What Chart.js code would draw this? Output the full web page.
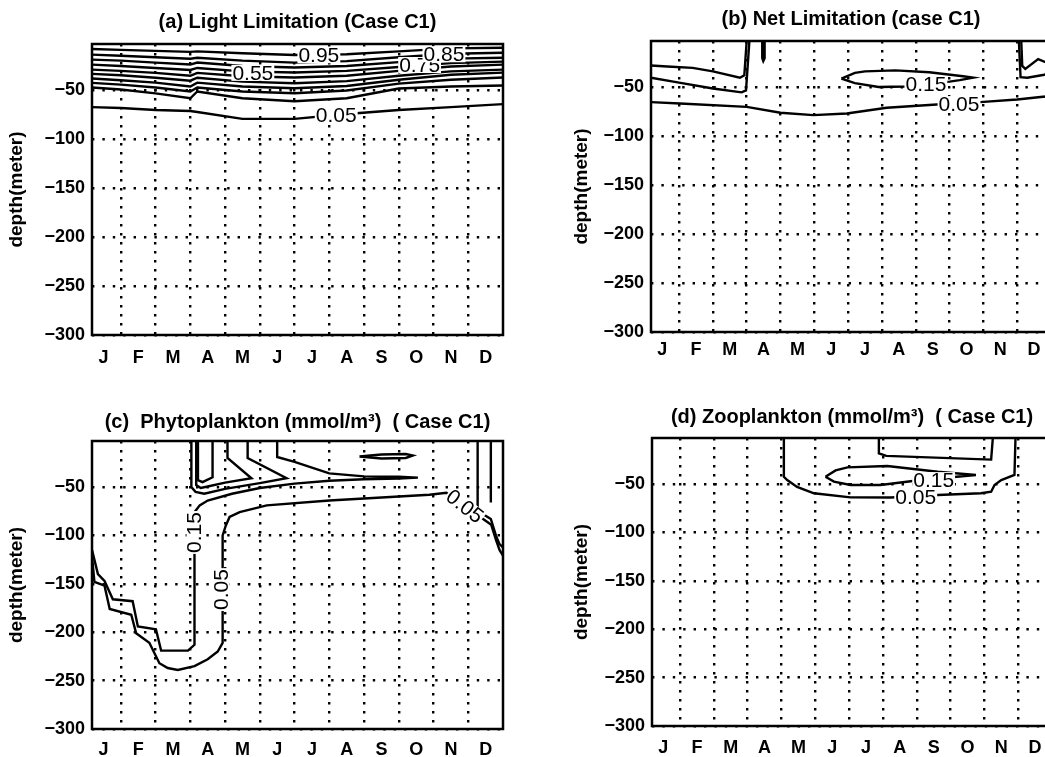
<!DOCTYPE html>
<html>
<head>
<meta charset="utf-8">
<script src="https://cdn.jsdelivr.net/npm/chart.js@4.4.0/dist/chart.umd.min.js"></script>
<style>
html,body{margin:0;padding:0;background:#fff;overflow:hidden;width:1045px;height:757px;position:relative}
canvas{position:absolute}
</style>
</head>
<body>
<canvas id="pa" width="520" height="378" style="left:0;top:0"></canvas>
<canvas id="pb" width="500" height="378" style="left:560px;top:0"></canvas>
<canvas id="pc" width="520" height="379" style="left:0;top:378px"></canvas>
<canvas id="pd" width="500" height="379" style="left:560px;top:378px"></canvas>
<script>
// axes: x in months (1 = end of Jan), y = depth in m
const months = ['J','F','M','A','M','J','J','A','S','O','N','D'];
const monthCenters = [0.5,1.5,2.5,3.5,4.5,5.5,6.5,7.5,8.5,9.5,10.5,11.5];
const monthEdges = [1,2,3,4,5,6,7,8,9,10,11];
const depthTicks = [-300,-250,-200,-150,-100,-50];
const xMin = 0.17, xMax = 12, yMin = -300, yTop = -2.5;

// (a) light limitation, one depth per month position
const aMonths = [0.17, 1, 2, 3, 3.2, 4.5, 6, 7.5, 9, 10.5, 12];
const a95 = [-7.6, -8.5, -9.5, -10.5, -10, -12, -13.7, -13, -10, -7, -6.3];
const a85 = [-13.4, -14.5, -16, -17.5, -16.5, -19.5, -21.5, -20, -16, -12.5, -11.4];
const a75 = [-18.5, -19.5, -21.5, -23.5, -21.5, -25, -26.6, -25, -21, -17.5, -16.5];
const a65 = [-23.6, -25, -27, -29, -27, -30.5, -31.7, -30, -26, -22, -20.5];
const a55 = [-28.7, -30, -32, -35, -32, -35.5, -36.8, -35, -30, -25.5, -23.6];
const a45 = [-33, -34.5, -37, -40, -37, -41, -42.6, -40.5, -35, -30.5, -28.7];
const a35 = [-37.8, -39.5, -42, -46, -42, -46, -47.7, -45.5, -39, -34, -31.8];
const a25 = [-42.2, -44, -47, -51, -47, -51, -52.8, -50, -43, -39, -36.8];
const a15 = [-47, -49, -53, -58, -51, -58, -61, -58, -48, -46, -45];
const a05 = [-67, -68, -70, -71, -72, -79, -79, -74, -70, -67, -64];
const aLabels = [['0.95', 6.7, -14, 0], ['0.55', 4.8, -32, 0], ['0.75', 9.6, -24, 0], ['0.85', 10.3, -13, 0], ['0.05', 7.2, -75, 0]];

// (b) net limitation, [month, depth] pairs
const b05 = [[0.17,-65],[1.03,-66.4],[3.0,-69.8],[4.0,-75.9],[4.97,-78.3],[5.96,-76.6],[7.14,-70.8],[8.62,-67.4],[9.9,-65],[11.0,-62.3],[11.76,-59.5],[12,-59]];
const bUpper = [[0.17,-27.5],[0.65,-28.5],[1.4,-30],[2.0,-33.5],[2.8,-40],[2.93,-37.5],[3.0,-2.5]];
const bLower = [[0.17,-40],[1.0,-45],[2.0,-51],[2.85,-55],[2.98,-53],[3.08,-2.5]];
const bSpike = [[3.46,-2.5],[3.46,-20],[3.49,-23],[3.53,-20],[3.53,-2.5]];
const b15 = [[5.8,-41],[6.2,-35],[6.5,-33.5],[7.4,-32.5],[8.4,-34.5],[9.4,-38.5],[9.7,-40],[9.3,-42.5],[9.0,-44],[8.3,-46.5],[7.7,-49],[6.9,-49.5],[6.2,-45.5],[5.8,-41]];
const bRight1 = [[11.12,-2.5],[11.15,-28],[11.24,-31],[11.62,-21],[11.83,-24],[12,-23]];
const bRight2 = [[11.05,-2.5],[11.1,-39.5],[11.3,-40],[11.8,-37],[12,-35]];
const bLabels = [['0.15', 8.3, -47, 0], ['0.05', 9.28, -67, 0]];

// (c) phytoplankton
const c05 = [[0.17,-122],[0.24,-148],[0.53,-152],[0.68,-176],[1.3,-182],[1.44,-201],[1.82,-211],[2.11,-232],[2.35,-237],[2.64,-239],[3.12,-235],[3.5,-228],[3.79,-220],[3.93,-211],[3.93,-100],[4.02,-90],[4.13,-81],[4.42,-76],[5.2,-69],[7.0,-64],[9.88,-58],[10.37,-56],[11.66,-89],[11.8,-105],[11.9,-115],[12,-121]];
const c15 = [[5.5,-2.5],[5.5,-19],[6.0,-24],[7.0,-36],[8.0,-39],[9.0,-39.5],[9.55,-40.3],[9.0,-41.3],[8.0,-42],[7.0,-43.5],[6.0,-46.5],[5.0,-51],[4.2,-57],[3.5,-64],[3.27,-69],[3.12,-76],[3.12,-213],[2.93,-219],[2.16,-219],[2.01,-197],[1.49,-194],[1.34,-168],[0.77,-166],[0.53,-147],[0.34,-140],[0.17,-115]];
const c25 = [[3.03,-2.5],[3.03,-50],[3.15,-55],[3.4,-57],[4.0,-52],[5.0,-46],[5.77,-41],[4.65,-20],[4.65,-2.5]];
const c35 = [[3.17,-2.5],[3.17,-48],[3.3,-51],[3.5,-49.5],[4.0,-45.5],[4.76,-41],[4.07,-20],[4.07,-2.5]];
const c45 = [[3.22,-2.5],[3.22,-43],[3.35,-45],[3.64,-40],[3.64,-2.5]];
const cPatch = [[7.87,-18.5],[8.5,-16.5],[9.2,-16],[9.4,-17.5],[9.2,-20],[8.5,-20.5],[7.87,-18.5]];
const cRight1 = [[11.27,-2.5],[11.27,-74.6],[11.65,-83],[11.8,-100.5],[11.9,-109],[12,-112.5]];
const cRight2 = [[11.65,-2.5],[11.65,-66]];
const cLabels = [['0.15', 3.12, -97, -90], ['0.05', 3.9, -156, -90], ['0.05', 10.9, -70, 38]];

// (d) zooplankton
const d05 = [[4.07,-2.5],[4.07,-42.5],[4.17,-46],[4.46,-53],[4.96,-59.6],[6.04,-63.8],[7.23,-64],[8.62,-61.4],[9.9,-59.6],[10.2,-58],[10.3,-51],[10.5,-46],[10.89,-40.7],[10.92,-2.5]];
const d15 = [[5.3,-42.5],[5.6,-36],[5.95,-32.8],[7.13,-31.4],[8.62,-37.3],[9.75,-40.7],[8.12,-45.9],[6.93,-51],[6.04,-51],[5.55,-47.6],[5.3,-42.5]];
const dBox = [[6.88,-2.5],[6.88,-18.3],[7.1,-21],[10.2,-24.8],[10.25,-2.5]];
const dLabels = [['0.15', 8.5, -46, 0], ['0.05', 7.97, -64, 0]];

const FONT = '"Liberation Sans", Arial, Helvetica, sans-serif';
Chart.defaults.font.family = FONT;
Chart.defaults.color = '#000';

const zipPts = (xs, ys) => xs.map((x, i) => ({x, y: ys[i]}));
const pairPts = arr => arr.map(([x, y]) => ({x, y}));

function labelPlugin(items){
  return {
    id: 'contourLabels',
    afterDatasetsDraw(chart){
      const {ctx, scales:{x, y}} = chart;
      ctx.save();
      ctx.font = '21px ' + FONT;
      ctx.textAlign = 'center'; ctx.textBaseline = 'middle';
      items.forEach(([t, m, d, rot]) => {
        ctx.save();
        ctx.translate(x.getPixelForValue(m), y.getPixelForValue(d));
        ctx.rotate(rot * Math.PI / 180);
        const w = ctx.measureText(t).width;
        ctx.fillStyle = '#fff'; ctx.fillRect(-w/2 - 1, -8, w + 2, 16);
        ctx.fillStyle = '#000'; ctx.fillText(t, 0, 1);
        ctx.restore();
      });
      ctx.restore();
    }
  };
}
const framePlugin = {
  id: 'frame',
  afterDraw(chart){
    const {ctx, chartArea:a} = chart;
    ctx.save(); ctx.strokeStyle = '#000'; ctx.lineWidth = 2.5;
    ctx.strokeRect(a.left, a.top, a.right - a.left, a.bottom - a.top);
    ctx.restore();
  }
};

function panel(id, title, lines, labels, L){
  const line = data => ({data, showLine:true, borderColor:'#000', borderWidth:2.4, pointRadius:0, fill:false, tension:0});
  new Chart(document.getElementById(id), {
    type: 'scatter',
    data: {datasets: lines.map(line)},
    options: {
      responsive:false, animation:false, devicePixelRatio:1,
      layout:{padding:{left:0, top:0, bottom:0, right:L.w - L.r}},
      plugins:{
        legend:{display:false}, tooltip:{enabled:false},
        title:{display:true, text:title, fullSize:false, color:'#000',
          font:{size:20, weight:'bold', lineHeight:1.2}, padding:{top:L.tt, bottom:L.tb}}
      },
      scales:{
        x:{type:'linear', min:xMin, max:xMax, bounds:'data', weight:0,
          afterBuildTicks:s => { s.ticks = monthEdges.map(v => ({value:v})); },
          afterFit:s => { s.height = 0; },
          ticks:{display:false}, grid:{color:'#000', lineWidth:2.4, drawTicks:false},
          border:{display:false, dash:[2.4,6.6]}},
        xm:{type:'linear', position:'bottom', min:xMin, max:xMax, bounds:'data', weight:1,
          afterBuildTicks:s => { s.ticks = monthCenters.map(v => ({value:v})); },
          afterFit:s => { s.height = L.h - L.b; },
          ticks:{callback:(v, i) => months[i], autoSkip:false, maxRotation:0, padding:L.xp,
            font:{size:18, weight:'bold'}, color:'#000'},
          grid:{display:false}, border:{display:false}},
        y:{type:'linear', min:yMin, max:yTop, bounds:'data',
          afterBuildTicks:s => { s.ticks = depthTicks.map(v => ({value:v})); },
          afterFit:s => { s.width = L.l; },
          ticks:{callback:v => '\u2212' + Math.abs(v), padding:7, font:{size:18, weight:'bold'}, color:'#000'},
          grid:{color:'#000', lineWidth:2.4, drawTicks:false},
          border:{display:false, dash:[2.4,8]},
          title:{display:true, text:'depth(meter)', color:'#000', font:{size:19, weight:'bold'}, padding:{top:L.yt, bottom:0}}}
      }
    },
    plugins:[labelPlugin(labels), framePlugin]
  });
}

panel('pa', '(a) Light Limitation (Case C1)',
  [a95,a85,a75,a65,a55,a45,a35,a25,a15,a05].map(ys => zipPts(aMonths, ys)), aLabels,
  {w:520, h:378, l:92, r:503, b:335, tt:10, tb:10, xp:4, yt:5});
panel('pb', '(b) Net Limitation (case C1)',
  [b05,bUpper,bLower,bSpike,b15,bRight1,bRight2].map(pairPts), bLabels,
  {w:500, h:378, l:91, r:491, b:332, tt:7, tb:10, xp:-1, yt:10});
panel('pc', '(c)  Phytoplankton (mmol/m\u00b3)  ( Case C1)',
  [c05,c15,c25,c35,c45,cPatch,cRight1,cRight2].map(pairPts), cLabels,
  {w:520, h:379, l:92, r:503, b:351, tt:32, tb:7, xp:2, yt:5});
panel('pd', '(d) Zooplankton (mmol/m\u00b3)  ( Case C1)',
  [d05,d15,dBox].map(pairPts), dLabels,
  {w:500, h:379, l:92, r:492, b:348, tt:27, tb:9, xp:3, yt:10});
</script>
</body>
</html>
